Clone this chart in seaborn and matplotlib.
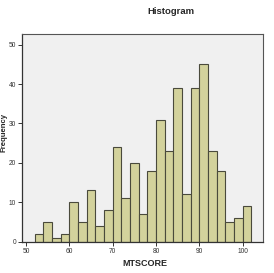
import matplotlib
matplotlib.use("Agg")
import matplotlib.pyplot as plt
import seaborn as sns
import numpy as np

bin_edges = [52, 54, 56, 58, 60, 62, 64, 66, 68, 70, 72, 74, 76, 78, 80,
             82, 84, 86, 88, 90, 92, 94, 96, 98, 100, 102]
counts = [2, 5, 1, 2, 10, 5, 13, 4, 8, 24, 11, 20, 7, 18, 31,
          23, 39, 12, 39, 45, 23, 18, 5, 6, 9]
x_ticks = [50, 60, 70, 80, 90, 100]
y_ticks = [0, 10, 20, 30, 40, 50]

centers = [(a + b) / 2 for a, b in zip(bin_edges[:-1], bin_edges[1:])]

sns.set_style("white")
plt.rcParams['font.family'] = ['Liberation Sans', 'DejaVu Sans']

fig = plt.figure(figsize=(2.74, 2.73), dpi=100)
ax = fig.add_axes([0.0803, 0.1147, 0.8796, 0.7608])
ax.set_facecolor('#F0F0F0')

sns.histplot(x=centers, weights=counts, bins=bin_edges, ax=ax,
             color='#D3D29C', alpha=1, edgecolor='#4a4a3c', linewidth=0.8)

ax.set_xlim(49.1, 104.7)
ax.set_ylim(0, 52.7)
ax.set_xticks(x_ticks)
ax.set_yticks(y_ticks)
ax.tick_params(axis='both', labelsize=4.8, length=3, width=0.7,
               direction='out', colors='#333333', pad=1.2, bottom=True, left=True)
for s in ['left', 'bottom']:
    ax.spines[s].set_color('#333333')
    ax.spines[s].set_linewidth(0.9)
for s in ['top', 'right']:
    ax.spines[s].set_color('#555555')
    ax.spines[s].set_linewidth(0.8)

ax.set_xlabel('')
ax.set_ylabel('')
fig.text(145 / 274, 1 - 263 / 273, 'MTSCORE', ha='center', va='center',
         fontsize=6.5, fontweight='bold')
fig.text(4.5 / 274, 1 - 133 / 273, 'Frequency', ha='center', va='center',
         rotation=90, fontsize=5.6, fontweight='bold')
fig.text(171 / 274, 1 - 11 / 273, 'Histogram', ha='center', va='center',
         fontsize=6.8, fontweight='bold')

fig.savefig('out.png', dpi=100)
